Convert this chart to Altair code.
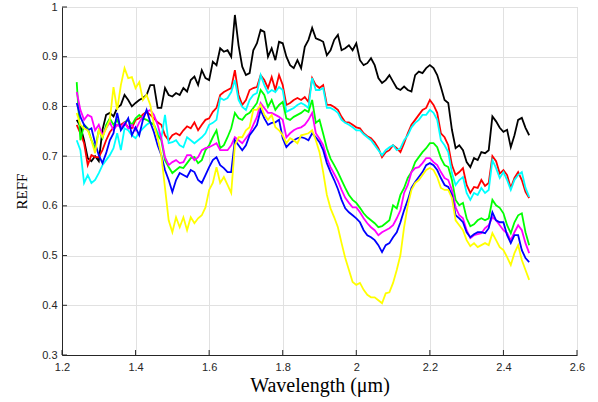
import altair as alt
import pandas as pd

# Wavelength grid (micrometres), 1.24 .. 2.47 in 0.01 steps
WAVELENGTH = [round(1.24 + 0.01 * i, 2) for i in range(124)]

X_TICKS = [1.2, 1.4, 1.6, 1.8, 2.0, 2.2, 2.4, 2.6]
Y_TICKS = [0.3, 0.4, 0.5, 0.6, 0.7, 0.8, 0.9, 1.0]

BLACK = [
    0.773, 0.76, 0.732, 0.696, 0.69, 0.70, 0.69, 0.753, 0.783, 0.787,
    0.78, 0.797, 0.803, 0.823, 0.813, 0.80, 0.807, 0.813, 0.817, 0.823,
    0.843, 0.843, 0.797, 0.797, 0.837, 0.823, 0.82, 0.827, 0.823, 0.837,
    0.83, 0.853, 0.86, 0.843, 0.873, 0.857, 0.853, 0.89, 0.883, 0.917,
    0.91, 0.913, 0.90, 0.984, 0.923, 0.88, 0.863, 0.867, 0.913, 0.927,
    0.954, 0.95, 0.90, 0.917, 0.893, 0.93, 0.927, 0.90, 0.883, 0.877,
    0.893, 0.877, 0.92, 0.934, 0.958, 0.937, 0.934, 0.93, 0.903, 0.913,
    0.934, 0.944, 0.913, 0.917, 0.923, 0.913, 0.927, 0.893, 0.883, 0.887,
    0.897, 0.883, 0.857, 0.847, 0.853, 0.863, 0.85, 0.837, 0.833, 0.84,
    0.833, 0.83, 0.863, 0.87, 0.867, 0.877, 0.883, 0.877, 0.863, 0.839,
    0.813, 0.807, 0.753, 0.716, 0.722, 0.712, 0.688, 0.678, 0.696, 0.692,
    0.708, 0.706, 0.712, 0.78, 0.77, 0.757, 0.749, 0.753, 0.718, 0.742,
    0.773, 0.777, 0.757, 0.742,
]

RED = [
    0.763, 0.746, 0.726, 0.682, 0.702, 0.698, 0.698, 0.712, 0.732, 0.748,
    0.758, 0.763, 0.763, 0.768, 0.758, 0.756, 0.773, 0.776, 0.784, 0.789,
    0.783, 0.776, 0.768, 0.763, 0.742, 0.732, 0.742, 0.746, 0.742, 0.752,
    0.76, 0.756, 0.768, 0.752, 0.763, 0.773, 0.776, 0.789, 0.797, 0.823,
    0.829, 0.833, 0.837, 0.873, 0.823, 0.803, 0.813, 0.833, 0.837, 0.839,
    0.863, 0.853, 0.837, 0.859, 0.833, 0.863, 0.843, 0.803, 0.807, 0.813,
    0.817, 0.813, 0.819, 0.809, 0.857, 0.843, 0.837, 0.843, 0.803, 0.803,
    0.799, 0.793, 0.779, 0.768, 0.768, 0.763, 0.758, 0.756, 0.746, 0.74,
    0.736, 0.728, 0.716, 0.698, 0.708, 0.712, 0.722, 0.716, 0.708, 0.726,
    0.746, 0.763, 0.773, 0.783, 0.793, 0.797, 0.813, 0.803, 0.787, 0.746,
    0.738, 0.722, 0.682, 0.662, 0.668, 0.676, 0.642, 0.626, 0.638, 0.636,
    0.652, 0.64, 0.646, 0.70, 0.69, 0.665, 0.672, 0.662, 0.636, 0.656,
    0.668, 0.652, 0.628, 0.616,
]

CYAN = [
    0.732, 0.712, 0.646, 0.662, 0.646, 0.652, 0.666, 0.682, 0.692, 0.702,
    0.716, 0.746, 0.712, 0.756, 0.752, 0.742, 0.736, 0.748, 0.756, 0.763,
    0.768, 0.763, 0.748, 0.736, 0.783, 0.726, 0.728, 0.732, 0.722, 0.718,
    0.738, 0.732, 0.726, 0.732, 0.738, 0.746, 0.763, 0.767, 0.773, 0.817,
    0.813, 0.817, 0.829, 0.853, 0.813, 0.799, 0.793, 0.813, 0.823, 0.827,
    0.863, 0.843, 0.827, 0.833, 0.829, 0.839, 0.833, 0.789, 0.793, 0.797,
    0.803, 0.807, 0.803, 0.797, 0.857, 0.833, 0.833, 0.837, 0.797, 0.797,
    0.793, 0.787, 0.773, 0.767, 0.763, 0.758, 0.752, 0.752, 0.744, 0.738,
    0.732, 0.722, 0.712, 0.702, 0.712, 0.718, 0.722, 0.712, 0.716, 0.732,
    0.742, 0.758, 0.767, 0.773, 0.783, 0.783, 0.793, 0.787, 0.773, 0.732,
    0.722, 0.708, 0.666, 0.642, 0.652, 0.658, 0.626, 0.612, 0.626, 0.622,
    0.636, 0.626, 0.632, 0.692, 0.676, 0.656, 0.668, 0.652, 0.632, 0.652,
    0.662, 0.668, 0.636, 0.618,
]

GREEN = [
    0.849, 0.732, 0.763, 0.756, 0.732, 0.716, 0.752, 0.736, 0.763, 0.776,
    0.763, 0.773, 0.756, 0.768, 0.773, 0.763, 0.776, 0.783, 0.776, 0.773,
    0.768, 0.763, 0.742, 0.732, 0.692, 0.678, 0.666, 0.672, 0.678, 0.676,
    0.686, 0.696, 0.698, 0.686, 0.692, 0.712, 0.722, 0.738, 0.752, 0.716,
    0.722, 0.738, 0.756, 0.787, 0.776, 0.773, 0.783, 0.787, 0.797, 0.807,
    0.833, 0.823, 0.799, 0.813, 0.793, 0.803, 0.809, 0.776, 0.773, 0.779,
    0.783, 0.787, 0.793, 0.789, 0.813, 0.767, 0.773, 0.745, 0.716, 0.695,
    0.682, 0.668, 0.652, 0.636, 0.622, 0.612, 0.606, 0.596, 0.585, 0.577,
    0.571, 0.565, 0.557, 0.559, 0.565, 0.571, 0.601, 0.595, 0.622, 0.636,
    0.656, 0.668, 0.688, 0.698, 0.708, 0.716, 0.726, 0.726, 0.718, 0.696,
    0.682, 0.678, 0.652, 0.612, 0.601, 0.606, 0.575, 0.559, 0.563, 0.571,
    0.575, 0.571, 0.575, 0.612, 0.601, 0.596, 0.585, 0.561, 0.545, 0.567,
    0.581, 0.585, 0.547, 0.521,
]

MAGENTA = [
    0.829, 0.793, 0.773, 0.783, 0.779, 0.752, 0.763, 0.742, 0.756, 0.768,
    0.752, 0.763, 0.758, 0.767, 0.756, 0.763, 0.752, 0.768, 0.779, 0.789,
    0.793, 0.783, 0.763, 0.736, 0.698, 0.682, 0.688, 0.692, 0.686, 0.688,
    0.702, 0.702, 0.692, 0.698, 0.712, 0.716, 0.718, 0.722, 0.726, 0.712,
    0.712, 0.712, 0.722, 0.738, 0.732, 0.726, 0.736, 0.746, 0.763, 0.779,
    0.807, 0.797, 0.787, 0.787, 0.783, 0.779, 0.773, 0.738, 0.746, 0.752,
    0.756, 0.758, 0.763, 0.773, 0.787, 0.746, 0.735, 0.722, 0.696, 0.678,
    0.664, 0.65, 0.632, 0.616, 0.606, 0.597, 0.597, 0.587, 0.575, 0.565,
    0.557, 0.551, 0.541, 0.547, 0.551, 0.555, 0.561, 0.575, 0.591, 0.626,
    0.642, 0.668, 0.676, 0.678, 0.686, 0.696, 0.696, 0.688, 0.682, 0.668,
    0.656, 0.652, 0.632, 0.597, 0.581, 0.575, 0.551, 0.535, 0.541, 0.543,
    0.545, 0.555, 0.561, 0.577, 0.571, 0.561, 0.551, 0.545, 0.531, 0.547,
    0.561, 0.551, 0.525, 0.505,
]

BLUE = [
    0.807, 0.779, 0.763, 0.752, 0.756, 0.726, 0.702, 0.686, 0.706, 0.732,
    0.746, 0.787, 0.752, 0.763, 0.776, 0.742, 0.758, 0.742, 0.773, 0.793,
    0.768, 0.748, 0.722, 0.702, 0.672, 0.652, 0.628, 0.652, 0.666, 0.662,
    0.658, 0.672, 0.668, 0.652, 0.646, 0.662, 0.678, 0.692, 0.698, 0.682,
    0.676, 0.668, 0.668, 0.732, 0.722, 0.712, 0.722, 0.742, 0.752, 0.763,
    0.793, 0.776, 0.763, 0.767, 0.768, 0.773, 0.736, 0.718, 0.726, 0.732,
    0.736, 0.738, 0.736, 0.732, 0.746, 0.738, 0.728, 0.712, 0.686, 0.668,
    0.652, 0.634, 0.612, 0.595, 0.587, 0.581, 0.575, 0.567, 0.551, 0.541,
    0.537, 0.531, 0.521, 0.507, 0.521, 0.525, 0.537, 0.547, 0.567, 0.591,
    0.612, 0.636, 0.648, 0.658, 0.668, 0.682, 0.686, 0.682, 0.672, 0.656,
    0.642, 0.638, 0.622, 0.581, 0.575, 0.567, 0.547, 0.537, 0.543, 0.547,
    0.547, 0.545, 0.555, 0.587, 0.571, 0.567, 0.567, 0.541, 0.525, 0.541,
    0.541, 0.511, 0.495, 0.487,
]

YELLOW = [
    0.787, 0.763, 0.756, 0.752, 0.732, 0.706, 0.752, 0.738, 0.756, 0.773,
    0.839, 0.793, 0.843, 0.877, 0.857, 0.859, 0.837, 0.849, 0.813, 0.823,
    0.803, 0.763, 0.736, 0.702, 0.636, 0.571, 0.547, 0.577, 0.557, 0.577,
    0.551, 0.577, 0.565, 0.575, 0.581, 0.597, 0.632, 0.646, 0.678, 0.646,
    0.658, 0.642, 0.626, 0.722, 0.738, 0.738, 0.752, 0.758, 0.793, 0.793,
    0.803, 0.783, 0.773, 0.783, 0.758, 0.752, 0.742, 0.726, 0.736, 0.732,
    0.726, 0.742, 0.744, 0.746, 0.752, 0.732, 0.708, 0.668, 0.622, 0.595,
    0.577, 0.557, 0.525, 0.495, 0.471, 0.447, 0.441, 0.445, 0.431, 0.421,
    0.416, 0.416, 0.41, 0.404, 0.424, 0.426, 0.445, 0.471, 0.501, 0.557,
    0.601, 0.632, 0.646, 0.652, 0.662, 0.672, 0.676, 0.672, 0.658, 0.636,
    0.632, 0.632, 0.616, 0.571, 0.561, 0.551, 0.531, 0.519, 0.525, 0.517,
    0.521, 0.525, 0.521, 0.545, 0.531, 0.517, 0.511, 0.497, 0.481, 0.505,
    0.521, 0.491, 0.471, 0.451,
]

# drawing order and MATLAB colours
SERIES = [
    ("k", "#000000", BLACK),
    ("r", "#ff0000", RED),
    ("c", "#00ffff", CYAN),
    ("g", "#00ff00", GREEN),
    ("m", "#ff00ff", MAGENTA),
    ("b", "#0000ff", BLUE),
    ("y", "#ffff00", YELLOW),
]

rows = []
for name, _, vals in SERIES:
    for w, v in zip(WAVELENGTH, vals):
        rows.append({"series": name, "wl": w, "reff": v})
df = pd.DataFrame(rows)

W, H = 515, 348
LABEL_FONT = "Liberation Sans"
TITLE_FONT = "Liberation Serif"

x_scale = alt.Scale(domain=[1.2, 2.6], nice=False, zero=False)
y_scale = alt.Scale(domain=[0.3, 1.0], nice=False, zero=False)

x_axis = alt.Axis(
    values=X_TICKS, format=".1~f", title="Wavelength (μm)",
    titleFont=TITLE_FONT, titleFontSize=20, titleFontWeight="normal",
    titleColor="#000000", titleX=W / 2, titleY=30, titleAlign="center",
    titleBaseline="middle",
    labelFont=LABEL_FONT, labelFontSize=11, labelColor="#262626",
    labelPadding=6, labelFlush=False, labelOverlap=False,
    ticks=False, domainColor="#262626", domainWidth=1,
    grid=True, gridColor="#e1e1e1", gridWidth=1,
)
y_axis = alt.Axis(
    values=Y_TICKS, format=".1~f", title="REFF",
    titleFont=TITLE_FONT, titleFontSize=15, titleFontWeight="normal",
    titleColor="#000000", titleAngle=270, titleX=-41, titleY=184,
    titleAlign="center", titleBaseline="middle",
    labelFont=LABEL_FONT, labelFontSize=11, labelColor="#262626",
    labelPadding=5, labelFlush=False, labelOverlap=False,
    ticks=False, domainColor="#262626", domainWidth=1,
    grid=True, gridColor="#e1e1e1", gridWidth=1,
)

x_enc = alt.X("wl:Q", scale=x_scale, axis=x_axis)
y_enc = alt.Y("reff:Q", scale=y_scale, axis=y_axis)

layers = []
for name, color, _ in SERIES:
    layers.append(
        alt.Chart(df)
        .transform_filter(alt.datum.series == name)
        .mark_line(color=color, strokeWidth=1.8, clip=True)
        .encode(x=x_enc, y=y_enc, order="wl:Q")
    )

# inward tick marks (MATLAB style)
xt = pd.DataFrame({"wl": X_TICKS})
yt = pd.DataFrame({"reff": Y_TICKS})
layers.append(
    alt.Chart(xt).mark_rule(color="#262626", strokeWidth=1)
    .encode(x=x_enc, y=alt.value(H), y2=alt.value(H - 5))
)
layers.append(
    alt.Chart(yt).mark_rule(color="#262626", strokeWidth=1)
    .encode(y=y_enc, x=alt.value(0), x2=alt.value(5))
)

chart = (
    alt.layer(*layers)
    .properties(
        width=W, height=H,
        autosize=alt.AutoSizeParams(type="none"),
        padding={"left": 62, "top": 7, "right": 21, "bottom": 47},
        background="white",
    )
    .configure_view(stroke="#d4d4d4", strokeWidth=1)
)

chart.save("out.html", embed_options={"renderer": "svg", "actions": False})
